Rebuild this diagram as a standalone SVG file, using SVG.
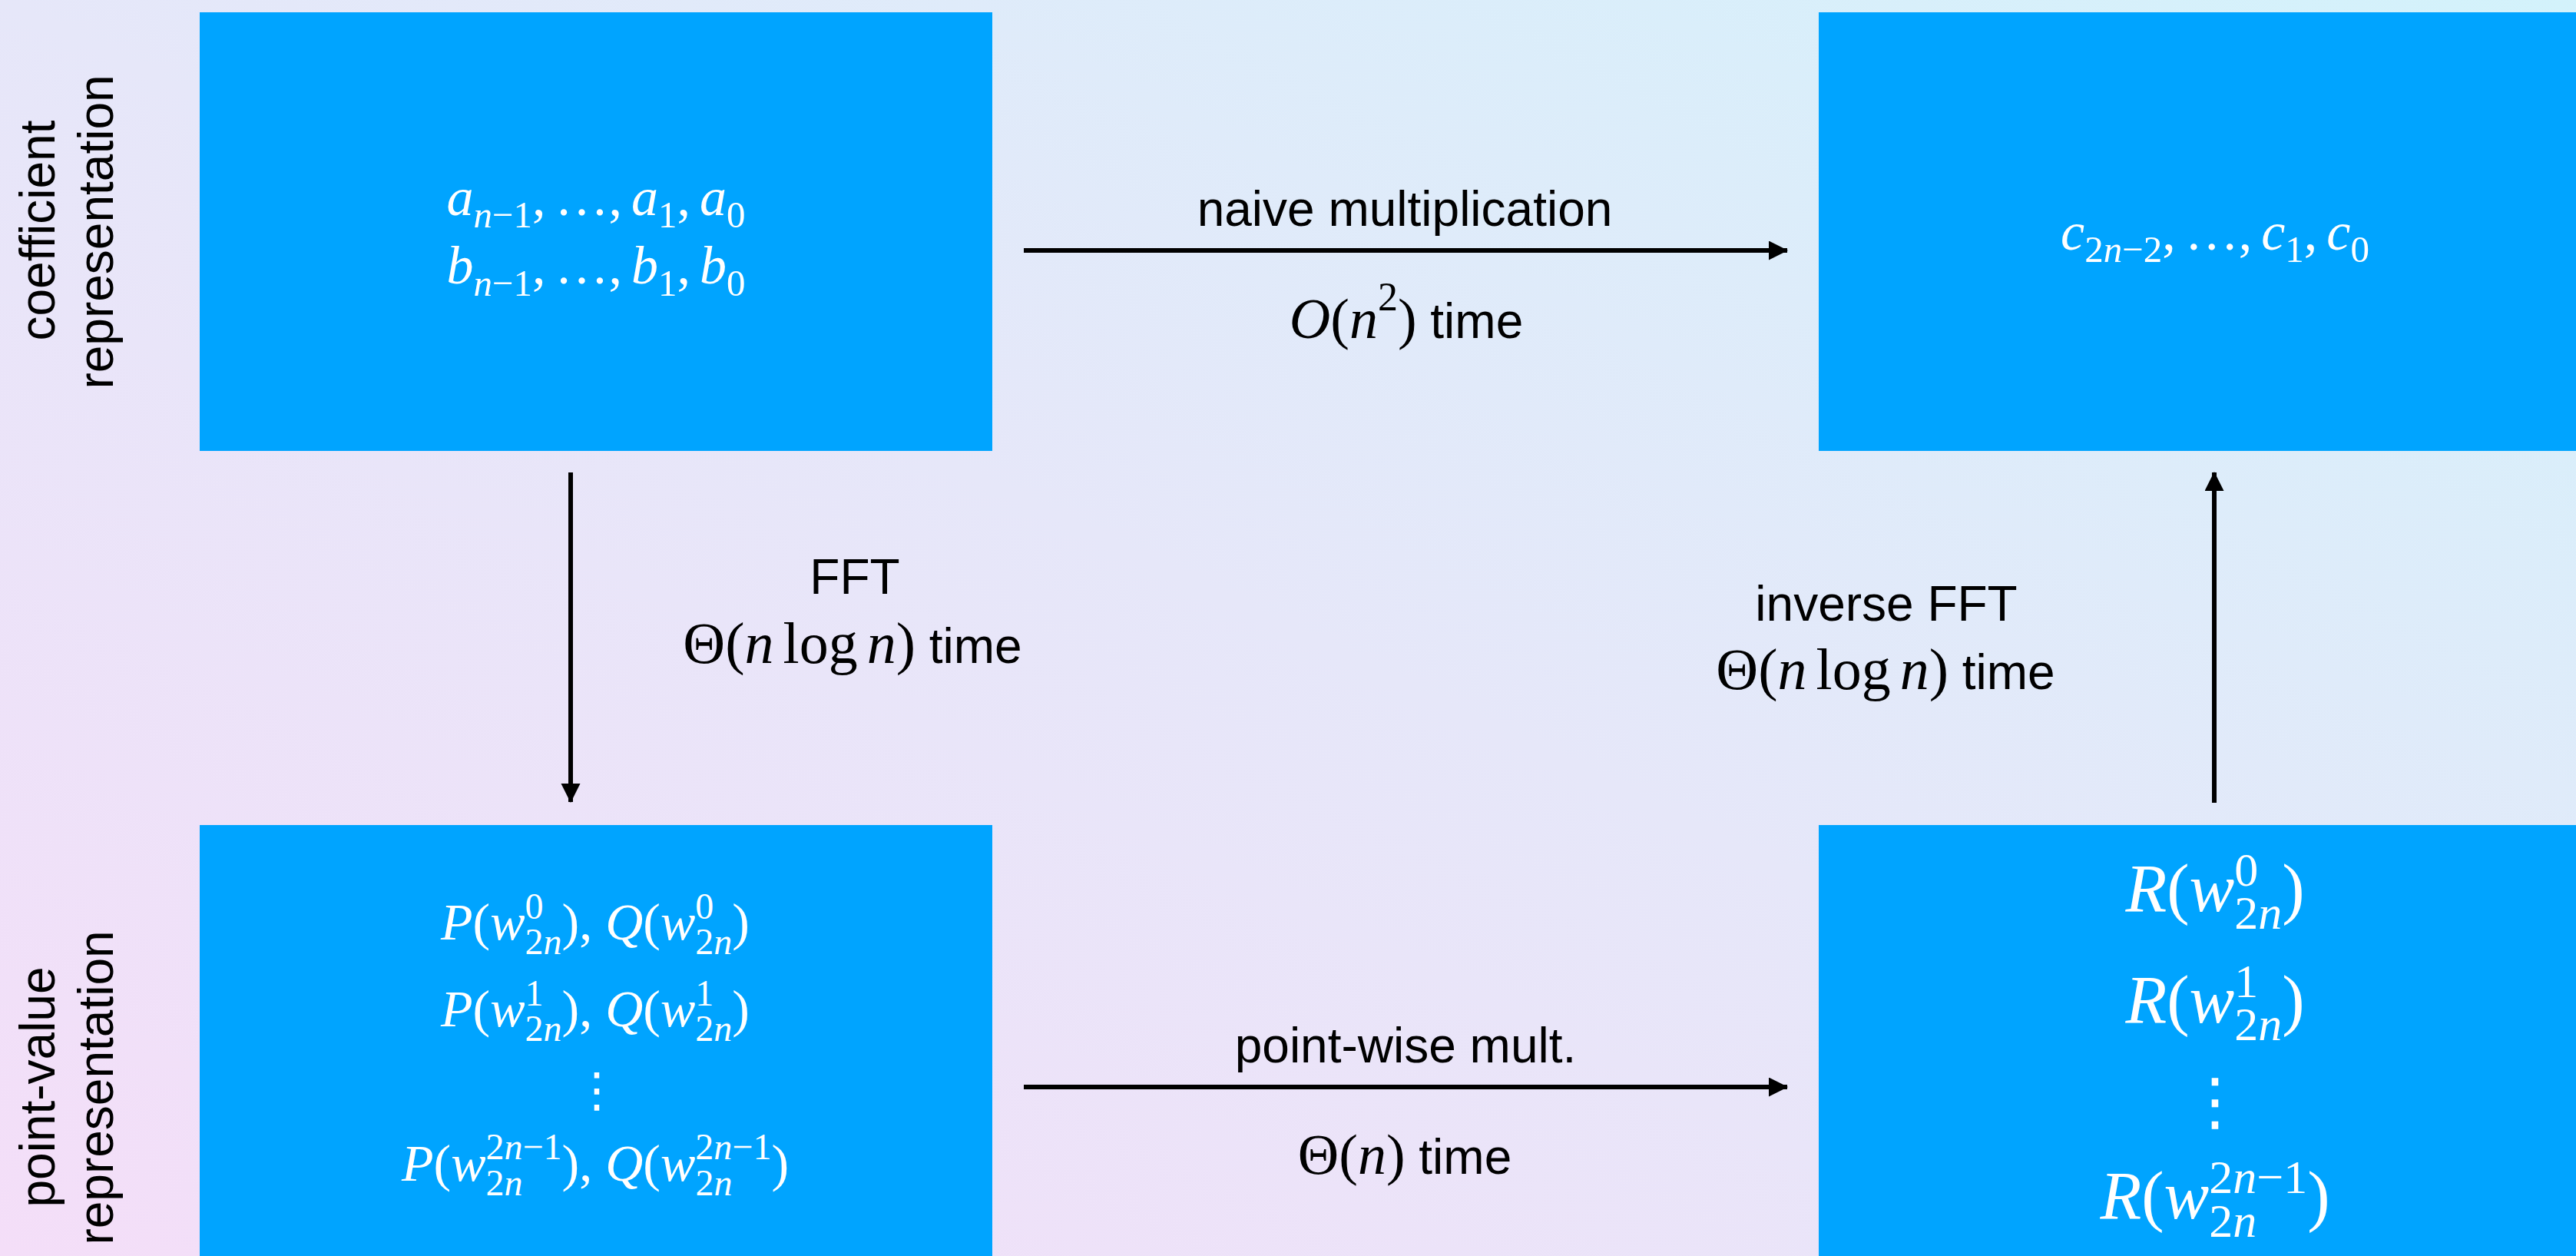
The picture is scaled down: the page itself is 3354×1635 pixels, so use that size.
<svg xmlns="http://www.w3.org/2000/svg" width="3354" height="1635" viewBox="0 0 3354 1635">
<defs>
<linearGradient id="bg" x1="0" y1="1" x2="1" y2="0">
<stop offset="0" stop-color="#F4DEF8"/>
<stop offset="0.5" stop-color="#E6E7F9"/>
<stop offset="1" stop-color="#D3F2FB"/>
</linearGradient>
<marker id="ah" markerUnits="userSpaceOnUse" markerWidth="26" markerHeight="26" refX="24" refY="12.5" orient="auto">
<path d="M0,0 L25,12.5 L0,25 Z" fill="#000"/>
</marker>
</defs>
<style>
.box{fill:#00A4FF}
.mw{font-family:'Liberation Serif','Times New Roman',serif;fill:#fff}
.i{font-style:italic}
.mk{font-family:'Liberation Serif','Times New Roman',serif}
.lbl{font-family:'Liberation Sans',Arial,sans-serif;font-size:64px;fill:#000}
.dots{font-family:'DejaVu Sans',sans-serif;fill:#fff}
.conn{stroke:#000;stroke-width:6;fill:none}
</style>
<rect x="0" y="0" width="3354" height="1635" fill="url(#bg)"/>

<g id="row-labels">
<text class="lbl" text-anchor="middle" transform="translate(71,300) rotate(-90)">coefficient</text>
<text class="lbl" text-anchor="middle" transform="translate(147,302) rotate(-90)">representation</text>
<text class="lbl" text-anchor="middle" transform="translate(71,1415) rotate(-90)">point-value</text>
<text class="lbl" text-anchor="middle" transform="translate(147,1416) rotate(-90)">representation</text>
</g>

<g id="node-coef-in">
<rect class="box" x="260" y="16" width="1032" height="571"/>
<text class="mw" x="776" y="280" font-size="70" text-anchor="middle"><tspan class="i">a</tspan><tspan font-size="49" dy="16"><tspan class="i">n</tspan>−1</tspan><tspan dy="-16">,</tspan><tspan dx="12">…,</tspan><tspan class="i" dx="12">a</tspan><tspan font-size="49" dy="16">1</tspan><tspan dy="-16">,</tspan><tspan class="i" dx="12">a</tspan><tspan font-size="49" dy="16">0</tspan></text>
<text class="mw" x="776" y="369" font-size="70" text-anchor="middle"><tspan class="i">b</tspan><tspan font-size="49" dy="16"><tspan class="i">n</tspan>−1</tspan><tspan dy="-16">,</tspan><tspan dx="12">…,</tspan><tspan class="i" dx="12">b</tspan><tspan font-size="49" dy="16">1</tspan><tspan dy="-16">,</tspan><tspan class="i" dx="12">b</tspan><tspan font-size="49" dy="16">0</tspan></text>
</g>

<g id="node-coef-out">
<rect class="box" x="2368" y="16" width="1040" height="571"/>
<text class="mw" x="2884" y="325" font-size="70" text-anchor="middle"><tspan class="i">c</tspan><tspan font-size="49" dy="16">2<tspan class="i">n</tspan>−2</tspan><tspan dy="-16">,</tspan><tspan dx="12">…,</tspan><tspan class="i" dx="12">c</tspan><tspan font-size="49" dy="16">1</tspan><tspan dy="-16">,</tspan><tspan class="i" dx="12">c</tspan><tspan font-size="49" dy="16">0</tspan></text>
</g>

<g id="node-pv-in">
<rect class="box" x="260" y="1074" width="1032" height="561"/>
<text class="mw" x="775" y="1223" font-size="68" text-anchor="middle"><tspan class="i">P</tspan>(<tspan class="i">w</tspan><tspan font-size="48" dy="-27">0</tspan><tspan font-size="48" dx="-24" dy="46">2<tspan class="i">n</tspan></tspan><tspan dy="-19">), </tspan><tspan class="i">Q</tspan>(<tspan class="i">w</tspan><tspan font-size="48" dy="-27">0</tspan><tspan font-size="48" dx="-24" dy="46">2<tspan class="i">n</tspan></tspan><tspan dy="-19">)</tspan></text>
<text class="mw" x="775" y="1336" font-size="68" text-anchor="middle"><tspan class="i">P</tspan>(<tspan class="i">w</tspan><tspan font-size="48" dy="-27">1</tspan><tspan font-size="48" dx="-24" dy="46">2<tspan class="i">n</tspan></tspan><tspan dy="-19">), </tspan><tspan class="i">Q</tspan>(<tspan class="i">w</tspan><tspan font-size="48" dy="-27">1</tspan><tspan font-size="48" dx="-24" dy="46">2<tspan class="i">n</tspan></tspan><tspan dy="-19">)</tspan></text>
<text class="dots" x="777" y="1440" font-size="62" text-anchor="middle">⋮</text>
<text class="mw" x="775" y="1537" font-size="68" text-anchor="middle"><tspan class="i">P</tspan>(<tspan class="i">w</tspan><tspan font-size="48" dy="-28">2<tspan class="i">n</tspan>−1</tspan><tspan font-size="48" dx="-99" dy="47">2<tspan class="i">n</tspan></tspan><tspan dx="51" dy="-19">), </tspan><tspan class="i">Q</tspan>(<tspan class="i">w</tspan><tspan font-size="48" dy="-28">2<tspan class="i">n</tspan>−1</tspan><tspan font-size="48" dx="-99" dy="47">2<tspan class="i">n</tspan></tspan><tspan dx="51" dy="-19">)</tspan></text>
</g>

<g id="node-pv-out">
<rect class="box" x="2368" y="1074" width="1040" height="561"/>
<text class="mw" x="2884" y="1186" font-size="88" text-anchor="middle"><tspan class="i">R</tspan>(<tspan class="i">w</tspan><tspan font-size="62" dy="-33">0</tspan><tspan font-size="62" dx="-31" dy="56">2<tspan class="i">n</tspan></tspan><tspan dy="-23">)</tspan></text>
<text class="mw" x="2884" y="1331" font-size="88" text-anchor="middle"><tspan class="i">R</tspan>(<tspan class="i">w</tspan><tspan font-size="62" dy="-33">1</tspan><tspan font-size="62" dx="-31" dy="56">2<tspan class="i">n</tspan></tspan><tspan dy="-23">)</tspan></text>
<text class="dots" x="2884" y="1462" font-size="82" text-anchor="middle">⋮</text>
<text class="mw" x="2884" y="1586" font-size="88" text-anchor="middle"><tspan class="i">R</tspan>(<tspan class="i">w</tspan><tspan font-size="62" dy="-33">2<tspan class="i">n</tspan>−1</tspan><tspan font-size="62" dx="-128" dy="57">2<tspan class="i">n</tspan></tspan><tspan dx="66" dy="-24">)</tspan></text>
</g>

<g id="connectors">
<line class="conn" x1="1333" y1="326" x2="2327" y2="326" marker-end="url(#ah)"/>
<line class="conn" x1="1333" y1="1415" x2="2327" y2="1415" marker-end="url(#ah)"/>
<line class="conn" x1="743" y1="615" x2="743" y2="1044" marker-end="url(#ah)"/>
<line class="conn" x1="2883" y1="1045" x2="2883" y2="615" marker-end="url(#ah)"/>
</g>

<g id="connector-labels">
<text class="lbl" x="1829" y="294" text-anchor="middle">naive multiplication</text>
<text class="lbl" x="1831" y="440" text-anchor="middle"><tspan class="mk i" font-size="74">O</tspan><tspan class="mk" font-size="74">(</tspan><tspan class="mk i" font-size="74">n</tspan><tspan class="mk" font-size="52" dy="-36">2</tspan><tspan class="mk" font-size="74" dy="36">)</tspan> time</text>
<text class="lbl" x="1113" y="773" text-anchor="middle">FFT</text>
<text class="lbl" x="1110" y="863" text-anchor="middle"><tspan class="mk" font-size="76">Θ(</tspan><tspan class="mk i" font-size="76">n</tspan><tspan class="mk" font-size="76" dx="12">log</tspan><tspan class="mk i" font-size="76" dx="12">n</tspan><tspan class="mk" font-size="76">)</tspan> time</text>
<text class="lbl" x="2456" y="808" text-anchor="middle">inverse FFT</text>
<text class="lbl" x="2455" y="897" text-anchor="middle"><tspan class="mk" font-size="76">Θ(</tspan><tspan class="mk i" font-size="76">n</tspan><tspan class="mk" font-size="76" dx="12">log</tspan><tspan class="mk i" font-size="76" dx="12">n</tspan><tspan class="mk" font-size="76">)</tspan> time</text>
<text class="lbl" x="1830" y="1383" text-anchor="middle">point-wise mult.</text>
<text class="lbl" x="1829" y="1528" text-anchor="middle"><tspan class="mk" font-size="74">Θ(</tspan><tspan class="mk i" font-size="74">n</tspan><tspan class="mk" font-size="74">)</tspan> time</text>
</g>
</svg>
